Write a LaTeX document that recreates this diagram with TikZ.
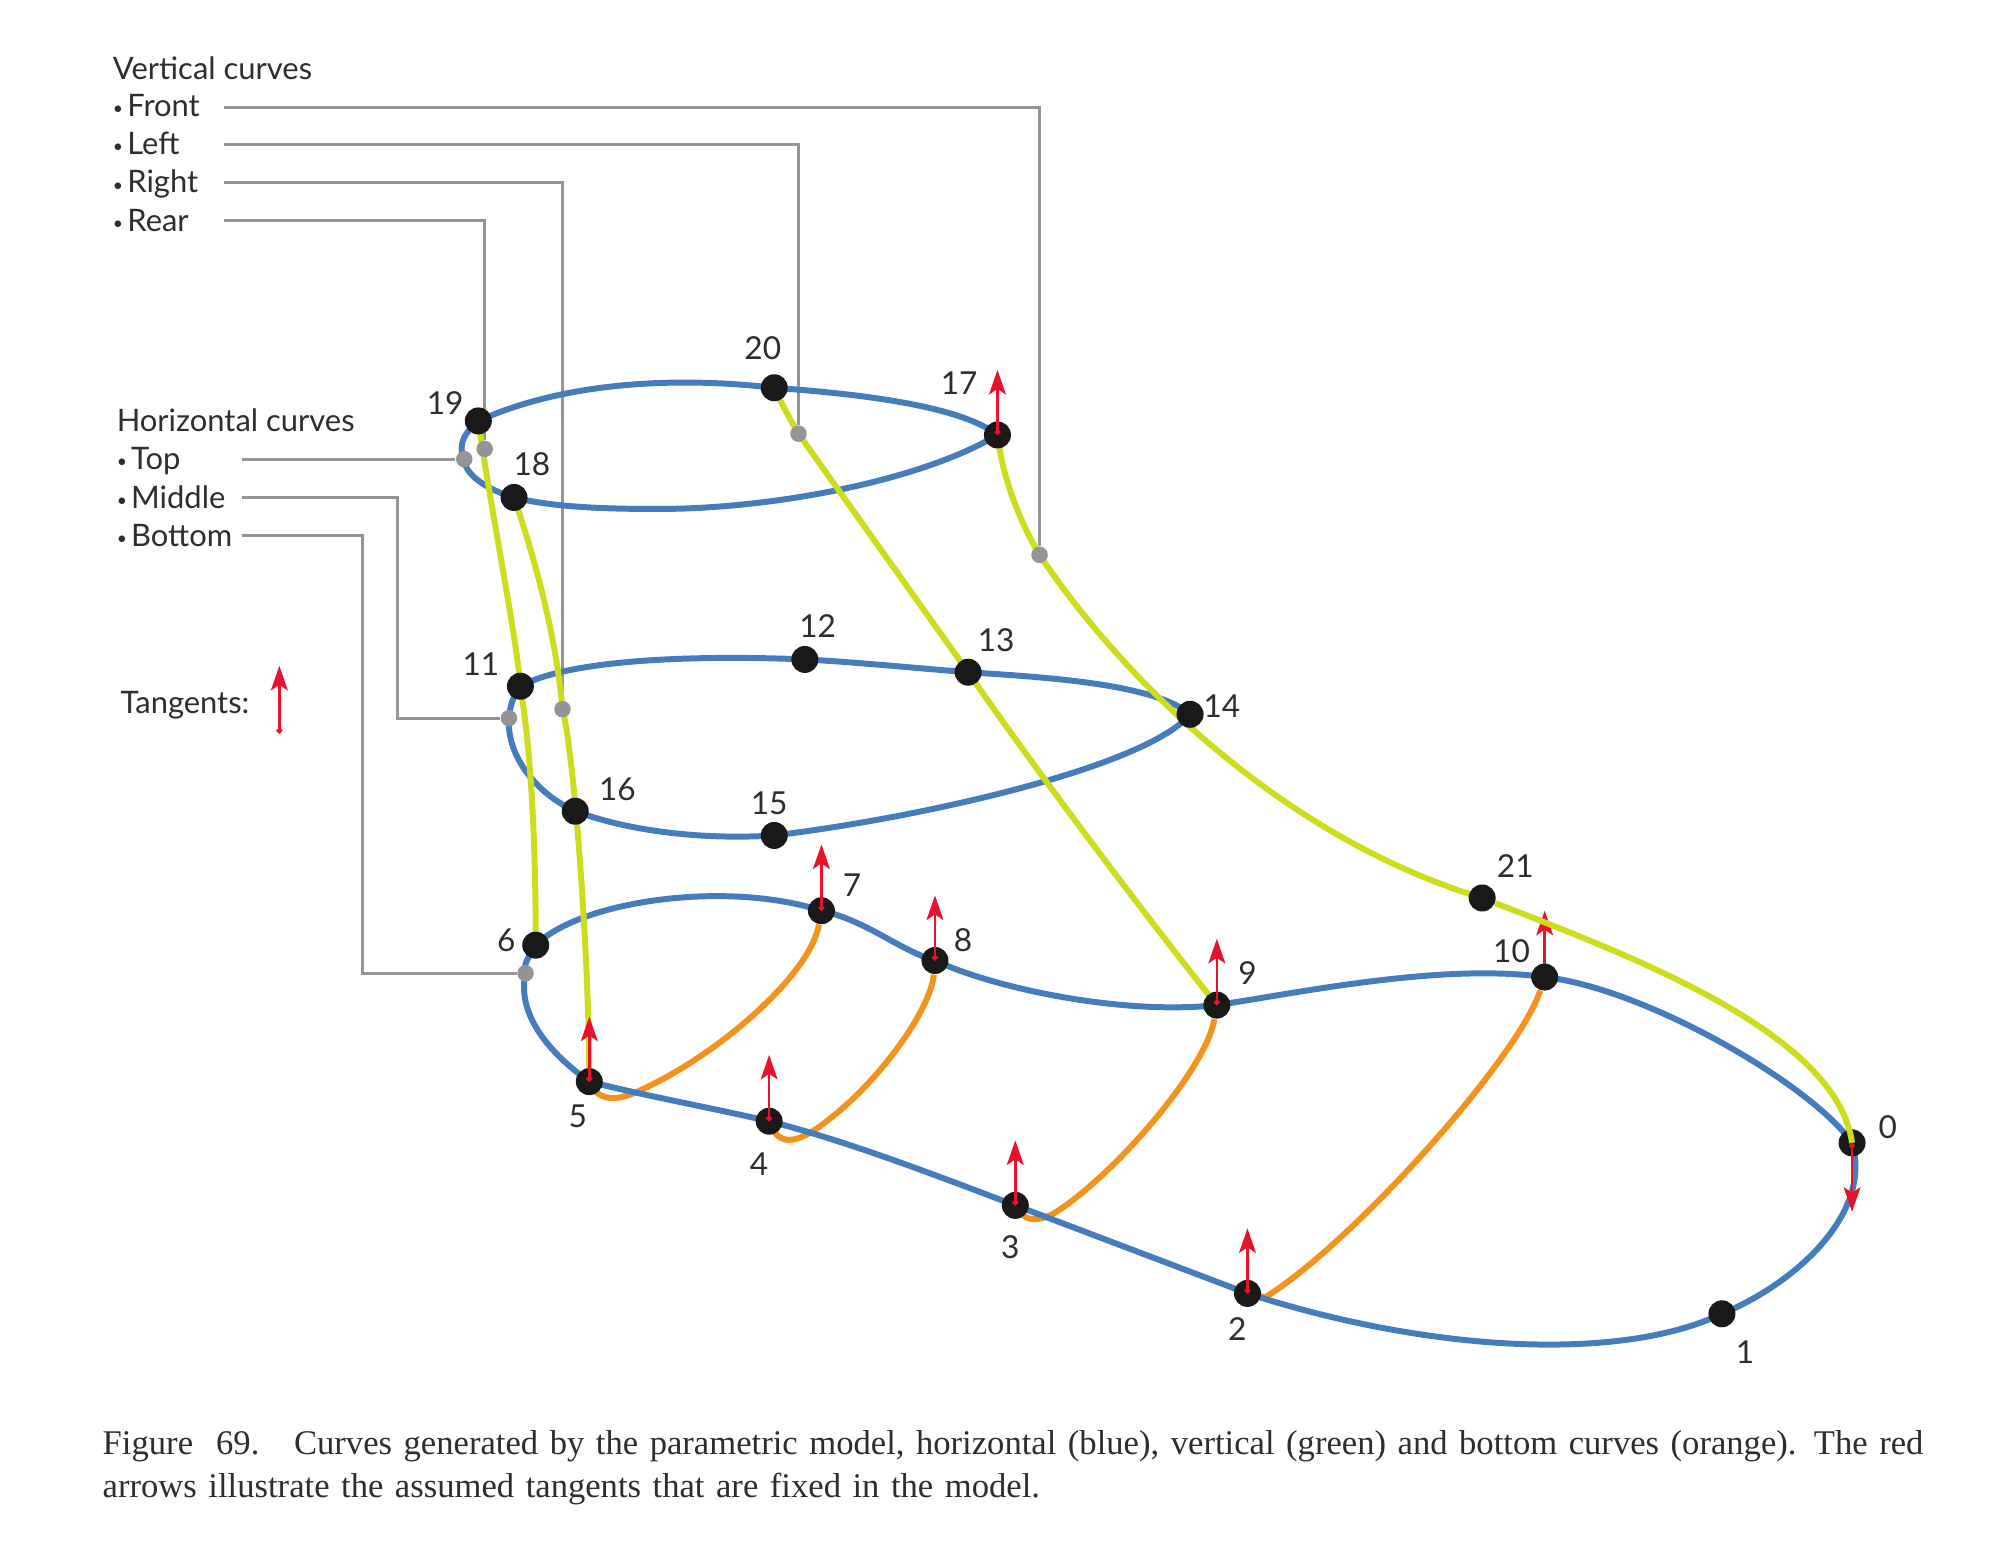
\documentclass[tikz,border=0pt]{standalone}
\usepackage{fontspec}
\setmainfont{Lato}
\newfontfamily\capfont{Liberation Serif}
\usetikzlibrary{arrows.meta,backgrounds}
\definecolor{hblue}{RGB}{68,124,188}
\definecolor{vgreen}{RGB}{206,220,30}
\definecolor{borange}{RGB}{244,146,30}
\definecolor{tred}{RGB}{232,18,44}
\definecolor{lgrey}{RGB}{148,148,150}
\definecolor{ink}{RGB}{45,45,45}
\newcommand{\bul}{{\fontsize{5}{5}\selectfont\raisebox{0.5pt}{•}}\hspace{1.2pt}}
\tikzset{
  pt/.style={circle,fill=black!90,inner sep=0pt,minimum size=0.27cm},
  grey/.style={circle,fill=lgrey,inner sep=0pt,minimum size=0.165cm},
  num/.style={inner sep=0pt,text=ink,font=\fontsize{9}{11}\selectfont},
  item/.style={anchor=west,inner sep=0pt,text height=7pt,text depth=1pt,text=ink,font=\fontsize{8.8}{11}\selectfont},
  hcurve/.style={hblue,line width=1.7pt},
  vcurve/.style={vgreen,line width=1.7pt},
  bcurve/.style={borange,line width=1.7pt},
  leader/.style={lgrey,line width=0.85pt},
  tangent/.style={tred,line width=0.7pt,{Circle[length=1.6pt]}-{Stealth[length=7pt,width=4.8pt,inset=1.6pt]}}
}
\begin{document}
\begin{tikzpicture}[x=0.012755cm,y=-0.012755cm]
\useasboundingbox (0,0) rectangle (1568,1227);

% points
\node[pt] (p0) at (1452,896) {};
\node[pt] (p1) at (1350,1030) {};
\node[pt] (p2) at (978,1014) {};
\node[pt] (p3) at (796,945) {};
\node[pt] (p4) at (603,879) {};
\node[pt] (p5) at (462,848) {};
\node[pt] (p6) at (420,741) {};
\node[pt] (p7) at (644,714) {};
\node[pt] (p8) at (733,753) {};
\node[pt] (p9) at (954,788) {};
\node[pt] (p10) at (1211,766) {};
\node[pt] (p11) at (408,538) {};
\node[pt] (p12) at (631,517) {};
\node[pt] (p13) at (759,527) {};
\node[pt] (p14) at (933,560) {};
\node[pt] (p15) at (607,655) {};
\node[pt] (p16) at (451,636) {};
\node[pt] (p17) at (782,341) {};
\node[pt] (p18) at (403,390) {};
\node[pt] (p19) at (375,330) {};
\node[pt] (p20) at (607,304) {};
\node[pt] (p21) at (1162,704) {};

% grey ends of the leaders
\node[grey] (gFront) at (815,435) {};
\node[grey] (gLeft) at (626,340) {};
\node[grey] (gRight) at (441,556) {};
\node[grey] (gRear) at (380,352) {};
\node[grey] (gTop) at (364,360) {};
\node[grey] (gMiddle) at (399,563) {};
\node[grey] (gBottom) at (412,763) {};

% numbers
\node[num] (l0) at (1480,884) {0};
\node[num] (l1) at (1368,1060) {1};
\node[num] (l2) at (970,1042) {2};
\node[num] (l3) at (792,978) {3};
\node[num] (l4) at (595,913) {4};
\node[num] (l5) at (453,875) {5};
\node[num] (l6) at (397,737) {6};
\node[num] (l7) at (668,694) {7};
\node[num] (l8) at (755,737) {8};
\node[num] (l9) at (978,763) {9};
\node[num] (l10) at (1185,746) {10};
\node[num] (l11) at (377,521) {11};
\node[num] (l12) at (641,491) {12};
\node[num] (l13) at (781,502) {13};
\node[num] (l14) at (958,554) {14};
\node[num] (l15) at (603,630) {15};
\node[num] (l16) at (484,619) {16};
\node[num] (l17) at (752,300) {17};
\node[num] (l18) at (417,364) {18};
\node[num] (l19) at (349,316) {19};
\node[num] (l20) at (598,273) {20};
\node[num] (l21) at (1188,679) {21};

% legend text
\node[item] (vert) at (88,54) {Vertical curves};
\node[item] (front) at (88,83) {\bul Front};
\node[item] (left) at (88,113) {\bul Left};
\node[item] (right) at (88,143) {\bul Right};
\node[item] (rear) at (88,173) {\bul Rear};
\node[item] (horiz) at (91,330) {Horizontal curves};
\node[item] (top) at (91,360) {\bul Top};
\node[item] (middle) at (91,390) {\bul Middle};
\node[item] (bottom) at (91,420) {\bul Bottom};
\node[item] (tang) at (94,551) {Tangents:};

\coordinate (cFront) at (176,84);
\coordinate (cLeft) at (176,113);
\coordinate (cRight) at (176,143);
\coordinate (cRear) at (176,173);
\coordinate (cTop) at (190,360);
\coordinate (cMiddle) at (190,390);
\coordinate (cBottom) at (190,420);

\begin{scope}[on background layer]
\draw[leader] (cFront) -| (gFront);
\draw[leader] (cLeft) -| (gLeft);
\draw[leader] (cRight) -| (gRight);
\draw[leader] (cRear) -| (gRear);
\draw[leader] (cTop) -- (gTop);
\draw[leader] (cMiddle) -- ++(122,0) |- (gMiddle);
\draw[leader] (cBottom) -- ++(94,0) |- (gBottom);

% bottom curves
\draw[bcurve] (p5.center) .. controls (468,862) and (480,864) .. (497,857) .. controls (560,830) and (635,765) .. (p7);
\draw[bcurve] (p4.center) .. controls (610,900) and (625,895) .. (640,885) .. controls (690,850) and (730,790) .. (p8);
\draw[bcurve] (p3.center) .. controls (803,958) and (812,958) .. (825,952) .. controls (870,925) and (945,840) .. (p9);
\draw[bcurve] (p2.center) -- (992,1017) .. controls (1060,975) and (1190,830) .. (p10);

% horizontal curves
\draw[hcurve] (p19.center) .. controls (430,305) and (510,293) .. (p20.center) .. controls (660,308) and (750,316) .. (p17.center)
  .. controls (720,378) and (600,400) .. (510,399) .. controls (470,399) and (430,397) .. (p18.center)
  .. controls (382,384) and (364,372) .. (gTop.center) .. controls (358,347) and (366,338) .. (p19.center);
\draw[hcurve] (p11.center) .. controls (450,515) and (560,514) .. (p12.center) .. controls (670,519) and (720,524) .. (p13.center)
  .. controls (820,531) and (905,536) .. (p14.center) .. controls (900,600) and (730,640) .. (p15.center)
  .. controls (560,658) and (500,654) .. (p16.center) .. controls (420,622) and (397,592) .. (gMiddle.center)
  .. controls (400,553) and (402,546) .. (p11.center);
\draw[hcurve] (p6.center) .. controls (455,706) and (570,690) .. (p7.center) .. controls (680,722) and (705,745) .. (p8.center)
  .. controls (780,775) and (880,796) .. (p9.center) .. controls (1020,778) and (1130,755) .. (p10.center)
  .. controls (1290,775) and (1420,850) .. (p0.center) .. controls (1468,950) and (1410,1005) .. (p1.center)
  .. controls (1270,1068) and (1120,1060) .. (p2.center) -- (p3.center) .. controls (730,920) and (665,895) .. (p4.center)
  .. controls (555,868) and (510,860) .. (p5.center) .. controls (430,825) and (405,795) .. (gBottom.center)
  .. controls (410,755) and (415,750) .. (p6.center);

\draw[tangent] (p10.center) -- ++(0,-52);

% vertical curves
\draw[vcurve] (p19.center) .. controls (385,400) and (405,500) .. (p11.center) .. controls (418,600) and (420,680) .. (p6.center);
\draw[vcurve] (p18.center) .. controls (425,455) and (437,510) .. (gRight.center) .. controls (450,590) and (462,750) .. (p5.center);
\draw[vcurve] (p20.center) .. controls (612,315) and (620,330) .. (gLeft.center) .. controls (665,395) and (715,465) .. (p13.center)
  .. controls (820,615) and (900,720) .. (p9.center);
\draw[vcurve] (p17.center) .. controls (786,375) and (800,410) .. (gFront.center) .. controls (875,525) and (1000,655) .. (p21.center);
\end{scope}

\draw[vcurve] (p21) .. controls (1280,750) and (1440,810) .. (p0.center);

% tangents
\draw[tangent] (p17.center) -- ++(0,-51);
\draw[tangent] (p5.center) -- ++(0,-51);
\draw[tangent] (p4.center) -- ++(0,-52);
\draw[tangent] (p3.center) -- ++(0,-51);
\draw[tangent] (p2.center) -- ++(0,-51);
\draw[tangent] (p7.center) -- ++(0,-52);
\draw[tangent] (p8.center) -- ++(0,-51);
\draw[tangent] (p9.center) -- ++(0,-52);
\draw[tangent] (p0.center) -- ++(0,54);
\draw[tangent] (219,575) -- (219,522);

\node[anchor=north west,inner sep=0pt,text width=18.69cm,text=ink,font=\capfont\fontsize{9.85}{12.3}\selectfont] (cap) at (80,1121)
  {Figure~~69.\quad Curves generated by the parametric model, horizontal (blue), vertical (green) and bottom curves (orange). The red\\arrows illustrate the assumed tangents that are fixed in the model.};
\end{tikzpicture}
\end{document}
